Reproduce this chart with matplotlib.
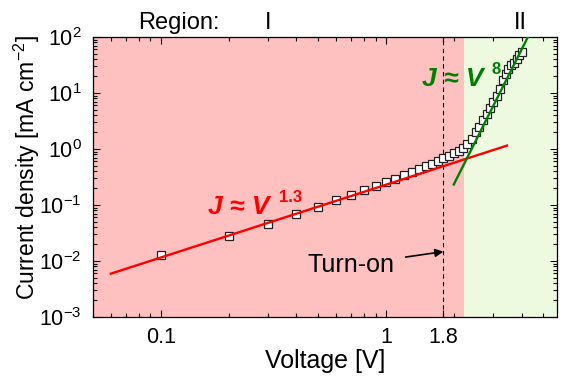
import matplotlib
matplotlib.use("Agg")
import matplotlib.pyplot as plt
import numpy as np

plt.rcParams['font.family'] = ['Liberation Sans', 'DejaVu Sans']
plt.rcParams['mathtext.fontset'] = 'custom'
plt.rcParams['mathtext.rm'] = 'Liberation Sans'
plt.rcParams['mathtext.it'] = 'Liberation Sans:italic'
plt.rcParams['mathtext.bf'] = 'Liberation Sans:bold'

# measured J-V data
voltage = [0.1, 0.2, 0.3, 0.4, 0.5, 0.6, 0.7, 0.8, 0.9, 1.0,
           1.1, 1.2, 1.3, 1.4, 1.5, 1.6, 1.7, 1.8, 1.9, 2.0,
           2.1, 2.2, 2.3, 2.4, 2.5, 2.6, 2.7, 2.8, 2.9, 3.0,
           3.1, 3.2, 3.3, 3.4, 3.5, 3.6, 3.7, 3.8, 3.9, 4.0]
current = [0.0128, 0.0276, 0.0458, 0.068, 0.093, 0.121, 0.151, 0.183, 0.218, 0.257,
           0.295, 0.343, 0.388, 0.44, 0.497, 0.546, 0.618, 0.682, 0.759, 0.838,
           0.933, 1.05, 1.21, 1.5, 2.0, 2.5, 3.3, 4.3, 5.5, 6.9,
           8.8, 12, 17, 22, 27, 31, 35, 41, 47, 54]

# power law fits J = a * V^n
ohmic_a, ohmic_n = 0.23, 1.3
ohmic_range = [0.06, 3.45]
sclc_a, sclc_n = 9.06e-4, 8
sclc_range = [2.0, 4.6]

turn_on = 1.8
region_split = 2.21
xlims = [0.05, 5.75]
ylims = [1e-3, 1e2]

fig = plt.figure(figsize=(5.61, 3.77), dpi=100)
ax = fig.add_axes([0.1658, 0.1592, 0.8271, 0.7427])
ax.set_xscale('log')
ax.set_yscale('log')
ax.set_xlim(xlims)
ax.set_ylim(ylims)

ax.axvspan(xlims[0], region_split, color='#ffc0c0', lw=0, zorder=0)
ax.axvspan(region_split, xlims[1], color='#eefadf', lw=0, zorder=0)

v1 = np.geomspace(ohmic_range[0], ohmic_range[1], 50)
ax.plot(v1, ohmic_a * v1**ohmic_n, color='#ff0000', lw=1.7, zorder=3)
v2 = np.geomspace(sclc_range[0], sclc_range[1], 50)
ax.plot(v2, sclc_a * v2**sclc_n, color='#008000', lw=1.7, zorder=3)

ax.plot(voltage, current, 's', ms=5.8, mfc='white', mec='#222222', mew=0.9, zorder=2)

ax.axvline(turn_on, color='k', lw=0.8, dashes=(4, 3), zorder=1)

# labels on the fits
ax.text(0.162, 0.0682, 'J \u2248 V', color='#ff0000', fontsize=19,
        fontweight='bold', fontstyle='italic', va='baseline', zorder=4)
ax.annotate('1.3', xy=(0.162, 0.0682), xytext=(51, 8.5), textcoords='offset points',
            color='#ff0000', fontsize=12, fontweight='bold', va='baseline')
ax.text(1.441, 13.3, 'J \u2248 V', color='#008000', fontsize=19,
        fontweight='bold', fontstyle='italic', va='baseline', zorder=4)
ax.annotate('8', xy=(1.441, 13.3), xytext=(50, 8.5), textcoords='offset points',
            color='#008000', fontsize=12, fontweight='bold', va='baseline')

ax.annotate('Turn-on', xy=(turn_on, 0.0147), xytext=(0.70, 0.0085),
            fontsize=18, ha='center', va='center',
            arrowprops=dict(arrowstyle='-|>', color='k', lw=1.2,
                            mutation_scale=12, shrinkA=6, shrinkB=0))

# region labels
trans = ax.get_xaxis_transform()
ax.text(0.12, 1.012, 'Region:', transform=trans, fontsize=17, ha='center', va='bottom')
ax.text(0.3, 1.012, 'I', transform=trans, fontsize=17, ha='center', va='bottom')
ax.text(3.95, 1.012, 'II', transform=trans, fontsize=17, ha='center', va='bottom')

ax.set_xticks([0.1, 1, 1.8])
ax.set_xticklabels(['0.1', '1', '1.8'])
ax.set_yticks([1e-3, 1e-2, 1e-1, 1e0, 1e1, 1e2])
ax.set_yticklabels(['$10^{-3}$', '$10^{-2}$', '$10^{-1}$', '$10^{0}$', '$10^{1}$', '$10^{2}$'])
ax.tick_params(which='both', direction='in', top=True, right=True, width=0.8)
ax.tick_params(which='major', length=5, labelsize=15.5)
ax.tick_params(axis='x', which='major', pad=7)
ax.tick_params(axis='y', which='major', pad=8)
ax.tick_params(which='minor', length=3)
for s in ax.spines.values():
    s.set_linewidth(0.9)

ax.set_xlabel('Voltage [V]', fontsize=18, labelpad=1)
ax.set_ylabel('Current density [mA cm$^{-2}$]', fontsize=16.5)
ax.yaxis.set_label_coords(-0.11, 0.535)

fig.savefig('out.png', dpi=100)
